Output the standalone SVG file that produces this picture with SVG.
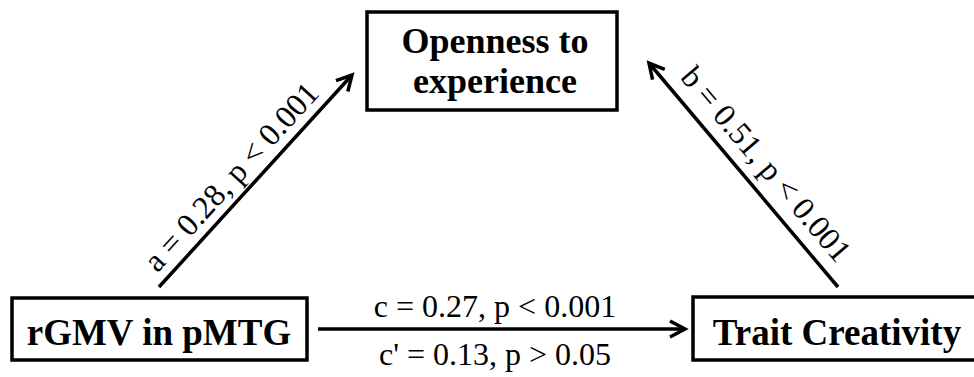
<svg xmlns="http://www.w3.org/2000/svg" width="974" height="377" viewBox="0 0 974 377">
<style>
.box{fill:#fff;stroke:#000;stroke-width:3.5}
.nt{font-family:"Liberation Serif","Times New Roman",serif;font-weight:bold;font-size:37px;fill:#000;text-anchor:middle}
.lt{font-family:"Liberation Serif","Times New Roman",serif;font-size:32px;fill:#000;text-anchor:middle}
.ln{stroke:#000;stroke-width:3.5;fill:none}
</style>
<defs>
<marker id="ah" markerUnits="userSpaceOnUse" viewBox="-20 -12 24 24" markerWidth="24" markerHeight="24" refX="0" refY="0" orient="auto">
<path d="M-15,-8 L0,0 L-15,8" fill="none" stroke="#000" stroke-width="3.5" stroke-linejoin="miter"/>
</marker>
</defs>
<rect width="974" height="377" fill="#fff"/>
<g id="connectors">
<line class="ln" x1="159" y1="287" x2="352" y2="75" marker-end="url(#ah)"/>
<line class="ln" x1="838" y1="287" x2="649" y2="63" marker-end="url(#ah)"/>
<line class="ln" x1="318" y1="329" x2="685" y2="329" marker-end="url(#ah)"/>
<text class="lt" transform="translate(239,184) rotate(-47.7)">a = 0.28, p &lt; 0.001</text>
<text class="lt" transform="translate(758,171) rotate(49.8)">b = 0.51, p &lt; 0.001</text>
<text class="lt" x="495" y="317">c = 0.27, p &lt; 0.001</text>
<text class="lt" x="495" y="365">c' = 0.13, p &gt; 0.05</text>
</g>
<g id="openness">
<rect class="box" x="367" y="12" width="250" height="98"/>
<text class="nt" x="495" y="53" style="font-size:36px">Openness to</text>
<text class="nt" x="495" y="93" style="font-size:36px">experience</text>
</g>
<g id="rgmv">
<rect class="box" x="12" y="298" width="295" height="62"/>
<text class="nt" x="159" y="345">rGMV in pMTG</text>
</g>
<g id="trait">
<rect class="box" x="693" y="297" width="290" height="63"/>
<text class="nt" x="837" y="345">Trait Creativity</text>
</g>
</svg>
